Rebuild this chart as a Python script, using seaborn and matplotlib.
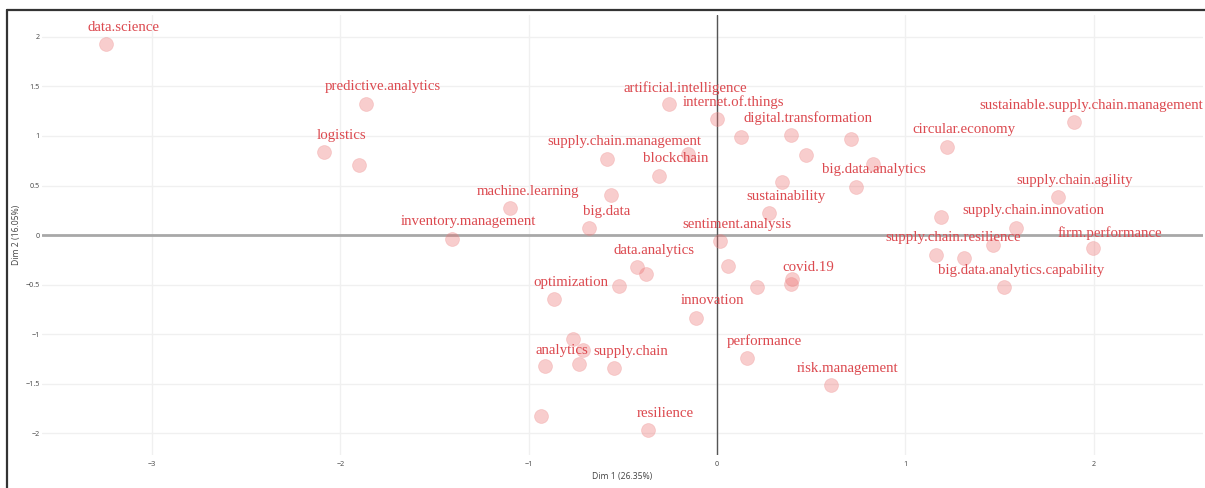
import matplotlib
matplotlib.use("Agg")
import matplotlib.pyplot as plt
from matplotlib.lines import Line2D
import pandas as pd
import seaborn as sns

# Keyword coordinates on the first two dimensions
dim1 = [-3.246, -1.865, -2.090, -1.901, -1.099, -1.410, -0.258, -0.002, 0.126, 0.393,
        -0.584, -0.157, -0.308, -0.563, -0.678, 0.014, 0.347, 0.275, 0.710, 0.471,
        0.830, 0.738, 1.220, 1.188, 1.165, 1.894, 1.809, 1.590, 1.995, 1.465,
        1.310, 1.522, 0.604, -0.425, -0.379, -0.522, -0.865, 0.057, 0.212, 0.397,
        0.395, -0.113, -0.765, -0.711, -0.915, -0.736, -0.547, 0.158, -0.934, -0.366]
dim2 = [1.929, 1.326, 0.842, 0.704, 0.277, -0.042, 1.323, 1.172, 0.993, 1.008,
        0.768, 0.816, 0.600, 0.405, 0.069, -0.060, 0.536, 0.218, 0.967, 0.806,
        0.715, 0.485, 0.892, 0.183, -0.198, 1.141, 0.385, 0.075, -0.135, -0.102,
        -0.228, -0.524, -1.513, -0.322, -0.396, -0.514, -0.648, -0.309, -0.527, -0.446,
        -0.497, -0.837, -1.052, -1.157, -1.324, -1.304, -1.341, -1.237, -1.823, -1.967]

# Visible keyword labels and where they sit on the map
label_text = ["data.science", "predictive.analytics", "logistics", "machine.learning",
              "inventory.management", "artificial.intelligence", "internet.of.things",
              "digital.transformation", "supply.chain.management", "blockchain", "big.data",
              "sentiment.analysis", "sustainability", "big.data.analytics", "circular.economy",
              "sustainable.supply.chain.management", "supply.chain.agility",
              "supply.chain.innovation", "supply.chain.resilience", "firm.performance",
              "big.data.analytics.capability", "risk.management", "data.analytics",
              "optimization", "covid.19", "innovation", "analytics", "supply.chain",
              "performance", "resilience"]
label_x = [-3.155, -1.775, -1.996, -1.006, -1.319, -0.170, 0.088, 0.482, -0.495, -0.220,
           -0.587, 0.107, 0.366, 0.833, 1.311, 1.985, 1.897, 1.680, 1.255, 2.085,
           1.614, 0.693, -0.335, -0.778, 0.485, -0.027, -0.823, -0.457, 0.251, -0.274]
label_y = [2.100, 1.495, 1.010, 0.438, 0.132, 1.488, 1.343, 1.179, 0.943, 0.775,
           0.236, 0.109, 0.385, 0.657, 1.068, 1.310, 0.553, 0.243, -0.026, 0.018,
           -0.355, -1.344, -0.160, -0.480, -0.329, -0.665, -1.163, -1.180, -1.069, -1.796]

x_title = "Dim 1 (26.35%)"
y_title = "Dim 2 (16.05%)"
x_ticks = [-3, -2, -1, 0, 1, 2]
y_ticks = [-2, -1.5, -1, -0.5, 0, 0.5, 1, 1.5, 2]

points = pd.DataFrame({"dim1": dim1, "dim2": dim2})

sns.set_style("white")
plt.rcParams["font.family"] = ["Open Sans", "DejaVu Sans"]
plt.rcParams["axes.unicode_minus"] = True

fig = plt.figure(figsize=(12.05, 4.88), dpi=100)
ax = fig.add_axes([0.0349, 0.0676, 0.9635, 0.9016])

# light grid, then the two zero lines
for v in x_ticks:
    ax.axvline(v, color="#f0f0f0", lw=1.0, zorder=0)
for v in y_ticks:
    ax.axhline(v, color="#f0f0f0", lw=1.0, zorder=0)
ax.axhline(0, color="#a8a8a8", lw=2.0, zorder=1)
ax.axvline(0, color="#555555", lw=1.0, zorder=1)

sns.scatterplot(data=points, x="dim1", y="dim2", ax=ax, s=100,
                color="#ec6a6a", alpha=0.33, edgecolor="#ee8a8a", linewidth=0.6,
                zorder=3, legend=False)

for t, lx, ly in zip(label_text, label_x, label_y):
    ax.text(lx, ly, t, ha="center", va="center", fontsize=10.7,
            family=["Liberation Serif", "DejaVu Serif"], color="#dc4a50", zorder=4)

ax.set_xlim(-3.585, 2.581)
ax.set_ylim(-2.22, 2.221)
ax.set_xticks(x_ticks)
ax.set_yticks(y_ticks)
ax.set_xticklabels([f"{v:g}".replace("-", "\u2212") for v in x_ticks])
ax.set_yticklabels([f"{v:g}".replace("-", "\u2212") for v in y_ticks])
ax.tick_params(axis="both", length=0, labelsize=5.2, colors="#444444")
ax.tick_params(axis="x", pad=4.5)
ax.tick_params(axis="y", pad=1.5)
ax.set_xlabel(x_title, fontsize=6.2, color="#444444", labelpad=3)
ax.set_ylabel(y_title, fontsize=6.2, color="#444444", labelpad=3)
for sp in ax.spines.values():
    sp.set_visible(False)

# outer frame along the top and left edges
fig.add_artist(Line2D([0.0058, 1.0], [0.9795, 0.9795], color="#333333", lw=1.6,
                      transform=fig.transFigure))
fig.add_artist(Line2D([0.0058, 0.0058], [0.0, 0.9795], color="#333333", lw=1.6,
                      transform=fig.transFigure))

fig.savefig("out.png", dpi=100)
